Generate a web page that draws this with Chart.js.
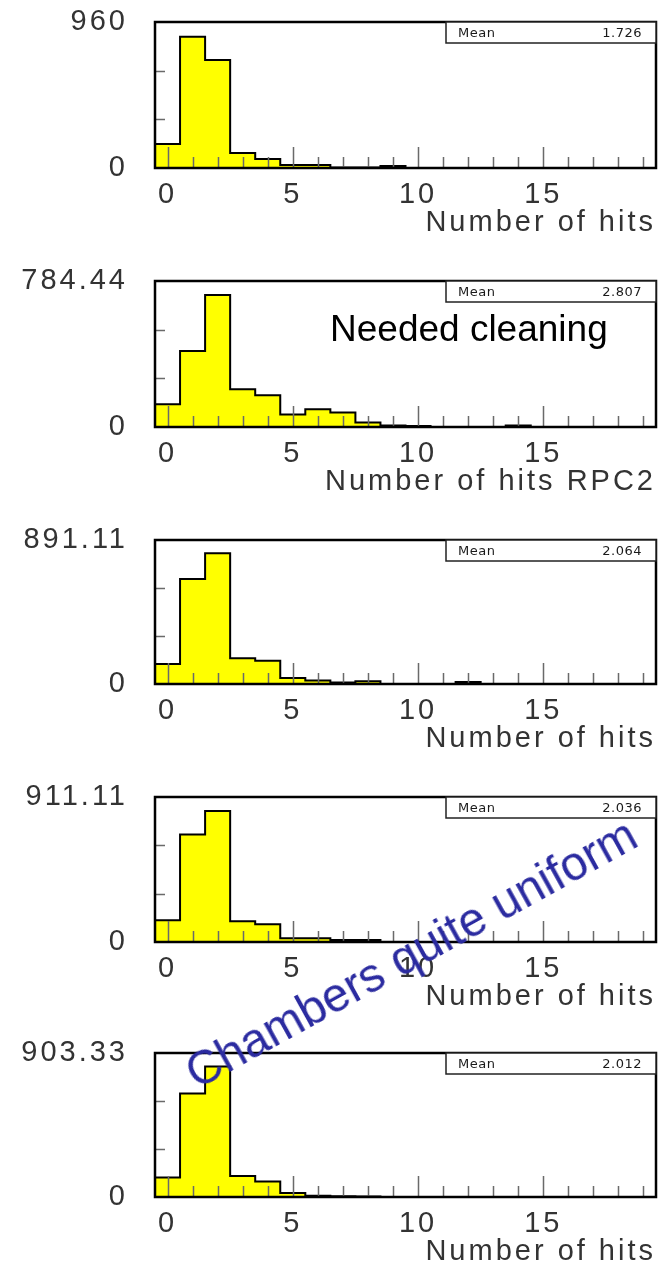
<!DOCTYPE html>
<html>
<head>
<meta charset="utf-8">
<title>Hit multiplicity per chamber</title>
<script src="https://cdn.jsdelivr.net/npm/chart.js@4.4.1/dist/chart.umd.min.js"></script>
<style>
  html, body { margin: 0; padding: 0; background: #fff; }
  body { position: relative; width: 658px; height: 1267px; overflow: hidden; }
  .panel { position: absolute; left: 0; }
  .note { position: absolute; white-space: nowrap; font-family: "Liberation Sans", Arial, sans-serif; }
  #cleaning { left: 330px; top: 310px; font-size: 37px; line-height: 37px; color: #000; }
  #uniform { left: 197px; top: 1050px; font-size: 47.5px; line-height: 47.5px; color: #2b2ba0;
             transform-origin: 0 40px; transform: rotate(-28.9deg); }
</style>
</head>
<body>
<div id="panels"></div>
<div class="note" id="cleaning">Needed cleaning</div>
<div class="note" id="uniform">Chambers quite uniform</div>
<script>
// bin centres: number of hits 0..19
var hitBins = [0, 1, 2, 3, 4, 5, 6, 7, 8, 9, 10, 11, 12, 13, 14, 15, 16, 17, 18, 19];

// entries per bin, one array per chamber
var hitsRpc1 = [158, 863, 710, 99, 59, 20, 20, 3, 3, 13, 0, 0, 0, 0, 0, 0, 0, 0, 0, 0];
var hitsRpc2 = [122, 409, 709, 203, 171, 67, 95, 78, 24, 8, 5, 0, 0, 0, 8, 0, 0, 0, 0, 0];
var hitsRpc3 = [124, 650, 809, 159, 144, 37, 22, 10, 17, 0, 0, 0, 12, 0, 0, 0, 0, 0, 0, 0];
var hitsRpc4 = [136, 675, 823, 130, 111, 23, 23, 13, 13, 0, 0, 0, 0, 0, 0, 0, 0, 0, 0, 0];
var hitsRpc5 = [122, 650, 818, 132, 97, 25, 8, 4, 3, 0, 0, 0, 0, 0, 0, 0, 0, 0, 0, 0];

var yMaxLabels = [960, 784.44, 891.11, 911.11, 903.33];
var meanLabels = ['1.726', '2.807', '2.064', '2.036', '2.012'];
var xTickLabels = [0, 5, 10, 15];
var axisTitles = ['Number of hits', 'Number of hits RPC2', 'Number of hits', 'Number of hits', 'Number of hits'];

var hitsPerChamber = [hitsRpc1, hitsRpc2, hitsRpc3, hitsRpc4, hitsRpc5];

// page layout of the frames: top of plot area and its height
var frameTops = [22, 281, 540, 797, 1053];
var frameHeights = [146, 146, 144, 145, 144];
var padTop = 22, axisBelow = 89, axisLeft = 155;

Chart.defaults.font.family = '"Liberation Sans", Arial, sans-serif';
Chart.defaults.font.size = 29;
Chart.defaults.color = '#333';

// ROOT-like frame: inner ticks, black box and the stats box
var rootFrame = {
    id: 'rootFrame',
    beforeDraw: function (chart) {
        chart.ctx.letterSpacing = '3px';
    },
    afterDatasetsDraw: function (chart, args, opts) {
        var ctx = chart.ctx;
        var area = chart.chartArea;
        var xs = chart.scales.x, ys = chart.scales.y;
        ctx.save();
        ctx.letterSpacing = '0px';

        ctx.strokeStyle = '#6a6a6a';
        ctx.lineWidth = 1.5;
        ctx.beginPath();
        hitBins.forEach(function (b) {
            var px = Math.round(xs.getPixelForValue(b)) + 0.5;
            var len = xTickLabels.indexOf(b) >= 0 ? 21 : 11;
            ctx.moveTo(px, area.bottom);
            ctx.lineTo(px, area.bottom - len);
        });
        [1 / 3, 2 / 3].forEach(function (f) {
            var py = Math.round(ys.getPixelForValue(ys.max * f)) + 0.5;
            ctx.moveTo(area.left, py);
            ctx.lineTo(area.left + 10, py);
        });
        ctx.stroke();

        ctx.strokeStyle = '#000';
        ctx.lineWidth = 2.5;
        ctx.strokeRect(area.left, area.top, area.right - area.left, area.bottom - area.top);

        var bw = 210, bh = 21;
        var bx = area.right - bw, by = area.top;
        ctx.fillStyle = '#fff';
        ctx.fillRect(bx, by, bw, bh);
        ctx.strokeStyle = '#222';
        ctx.lineWidth = 1.5;
        ctx.strokeRect(bx, by, bw, bh);
        ctx.fillStyle = '#1a1a1a';
        ctx.font = '13px "DejaVu Sans", sans-serif';
        ctx.textBaseline = 'middle';
        ctx.textAlign = 'left';
        ctx.letterSpacing = '0.5px';
        ctx.fillText('Mean', bx + 12, by + bh / 2 + 1);
        ctx.textAlign = 'right';
        ctx.fillText(opts.mean, area.right - 14, by + bh / 2 + 1);
        ctx.restore();
    }
};

var holder = document.getElementById('panels');

hitsPerChamber.forEach(function (counts, i) {
    var h = padTop + frameHeights[i] + axisBelow;
    var wrap = document.createElement('div');
    wrap.className = 'panel';
    wrap.style.top = (frameTops[i] - padTop) + 'px';
    var canvas = document.createElement('canvas');
    canvas.width = 658;
    canvas.height = h;
    wrap.appendChild(canvas);
    holder.appendChild(wrap);

    // step outline: each value holds from the left bin edge to the next one
    var last = hitBins.length - 1;
    var points = hitBins.map(function (b, k) {
        return { x: b - 0.5, y: counts[k] };
    });
    points.push({ x: hitBins[last] + 0.5, y: counts[last] });

    var yMax = yMaxLabels[i];

    new Chart(canvas.getContext('2d'), {
        type: 'line',
        data: {
            datasets: [{
                data: points,
                stepped: 'before',
                fill: 'origin',
                backgroundColor: '#ffff00',
                borderColor: '#000',
                borderWidth: 2,
                pointRadius: 0
            }]
        },
        options: {
            responsive: false,
            animation: false,
            layout: { padding: { top: padTop, right: 2, left: 0, bottom: 0 } },
            plugins: {
                legend: { display: false },
                tooltip: { enabled: false },
                rootFrame: { mean: meanLabels[i] }
            },
            scales: {
                x: {
                    type: 'linear',
                    min: hitBins[0] - 0.5,
                    max: hitBins[last] + 0.5,
                    // tick marks are drawn by rootFrame, the length here only spaces the labels
                    grid: { display: false, drawTicks: true, tickLength: 10 },
                    border: { display: false },
                    afterBuildTicks: function (axis) {
                        axis.ticks = xTickLabels.map(function (v) { return { value: v }; });
                    },
                    afterFit: function (axis) { axis.height = axisBelow; },
                    ticks: {
                        autoSkip: false,
                        maxRotation: 0,
                        padding: 0,
                        callback: function (v) { return String(v); }
                    },
                    title: {
                        display: true,
                        text: axisTitles[i],
                        align: 'end',
                        color: '#333',
                        padding: { top: 0, bottom: 17 }
                    }
                },
                y: {
                    min: 0,
                    max: yMax,
                    grid: { display: false, drawTicks: true, tickLength: 27 },
                    border: { display: false },
                    afterBuildTicks: function (axis) {
                        axis.ticks = [{ value: 0 }, { value: yMax }];
                    },
                    afterFit: function (axis) { axis.width = axisLeft; },
                    ticks: {
                        padding: 0,
                        callback: function (v) { return String(v); }
                    }
                }
            }
        },
        plugins: [rootFrame]
    });
});
</script>
</body>
</html>
